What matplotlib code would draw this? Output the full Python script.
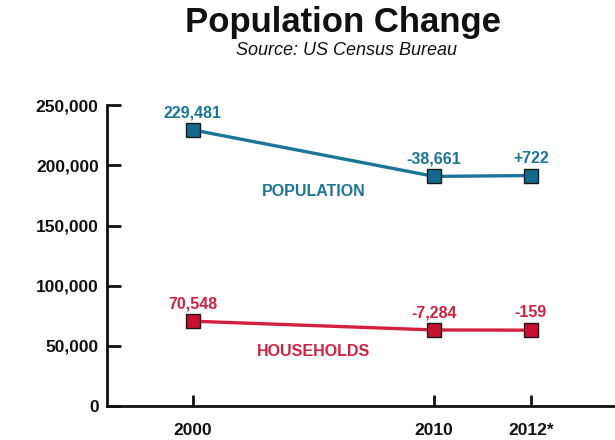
import matplotlib.pyplot as plt

years = ['2000', '2010', '2012*']
x_pos = [0, 2.5, 3.5]  # uneven spacing as in the original graphic
population = [229481, 190820, 191542]
households = [70548, 63264, 63105]
pop_labels = ['229,481', '-38,661', '+722']
hh_labels = ['70,548', '-7,284', '-159']
y_ticks = [0, 50000, 100000, 150000, 200000, 250000]

blue = '#1a7598'
red = '#d41f3f'

plt.rcParams['font.family'] = ['Liberation Sans', 'DejaVu Sans']

fig = plt.figure(figsize=(6.15, 4.4), dpi=100)
ax = fig.add_axes([0.174, 0.077, 0.826, 0.684])

ax.plot(x_pos, population, color=blue, lw=2.4, marker='s', ms=10,
        mfc='#0f6a8c', mec='#1a1a1a', mew=1)
ax.plot(x_pos, households, color=red, lw=2.4, marker='s', ms=10,
        mfc='#c8102e', mec='#1a1a1a', mew=1)

for x, y, t in zip(x_pos, population, pop_labels):
    ax.annotate(t, (x, y), xytext=(0, 7), textcoords='offset points',
                ha='center', va='bottom', color=blue, fontsize=11.5, fontweight='bold')
for x, y, t in zip(x_pos, households, hh_labels):
    ax.annotate(t, (x, y), xytext=(0, 7), textcoords='offset points',
                ha='center', va='bottom', color=red, fontsize=11.5, fontweight='bold')

ax.text(1.25, 178000, 'POPULATION', color=blue, fontsize=11.5,
        fontweight='bold', ha='center', va='center')
ax.text(1.25, 45000, 'HOUSEHOLDS', color=red, fontsize=11.5,
        fontweight='bold', ha='center', va='center')

ax.set_xlim(-0.885, 4.37)
ax.set_ylim(0, 250000)
ax.set_xticks(x_pos)
ax.set_xticklabels(years)
ax.set_yticks(y_ticks)
ax.set_yticklabels(['{:,}'.format(v) for v in y_ticks])

for s in ['top', 'right']:
    ax.spines[s].set_visible(False)
for s in ['left', 'bottom']:
    ax.spines[s].set_linewidth(2)
    ax.spines[s].set_color('#111111')
ax.tick_params(axis='both', direction='in', width=2, color='#111111',
               labelsize=12.5, labelcolor='#111111')
ax.tick_params(axis='y', length=10, pad=6)
ax.tick_params(axis='x', length=8, pad=12)
for lab in ax.get_xticklabels() + ax.get_yticklabels():
    lab.set_fontweight('bold')

fig.text(0.557, 0.948, 'Population Change', ha='center', va='center',
         fontsize=25, fontweight='bold', color='#111111')
fig.text(0.563, 0.885, 'Source: US Census Bureau', ha='center', va='center',
         fontsize=13, style='italic', color='#111111')

fig.savefig('out.png', dpi=100, facecolor='white')
